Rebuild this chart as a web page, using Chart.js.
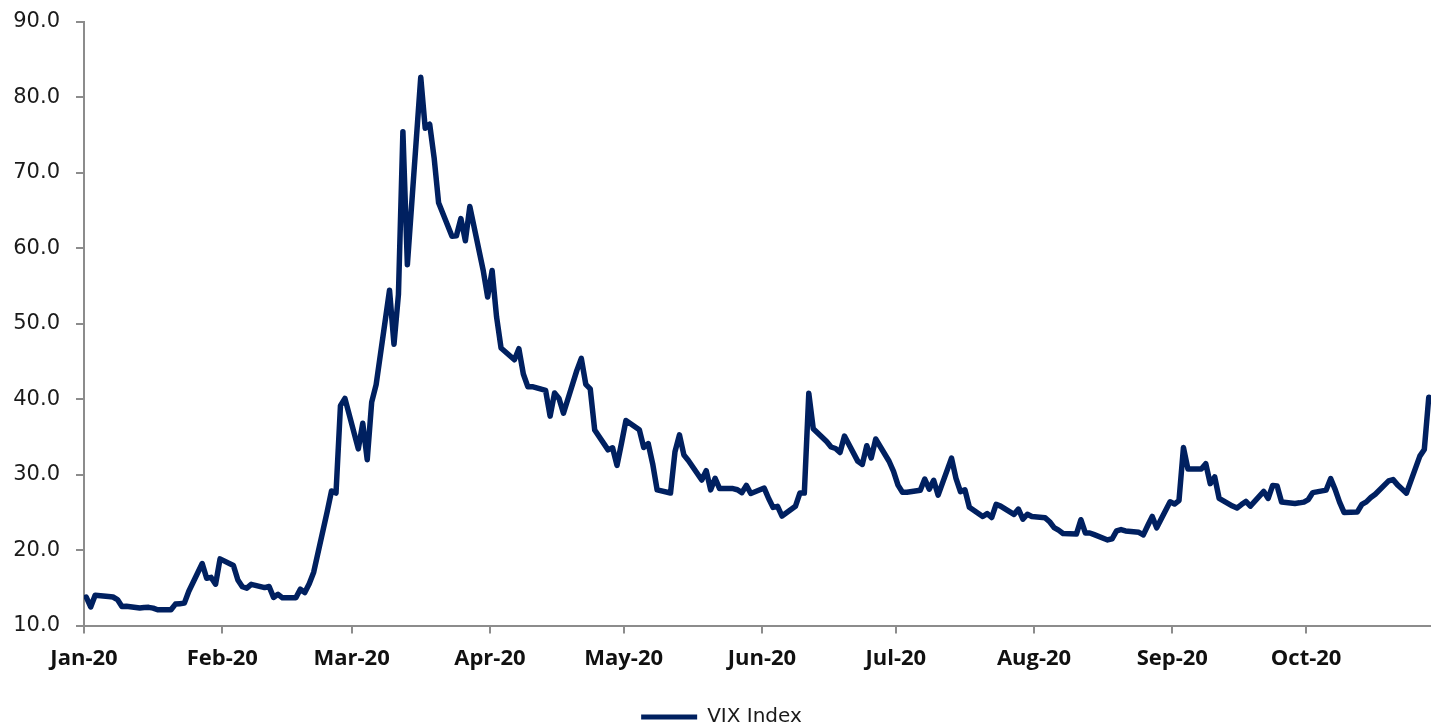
<!DOCTYPE html>
<html>
<head>
<meta charset="utf-8">
<title>VIX Index</title>
<script src="https://cdn.jsdelivr.net/npm/chart.js@4.4.1/dist/chart.umd.min.js"></script>
<style>
  html, body { margin: 0; padding: 0; background: #fff; }
  #wrap { width: 1431px; height: 724px; position: relative; }
</style>
</head>
<body>
<div id="wrap"><canvas id="vixChart"></canvas></div>
<script>
// daily closes (exchange holidays carry the previous close)
const dates = [
  '2020-01-01','2020-01-02','2020-01-03','2020-01-06','2020-01-07','2020-01-08','2020-01-09','2020-01-10',
  '2020-01-13','2020-01-14','2020-01-15','2020-01-16','2020-01-17','2020-01-20','2020-01-21','2020-01-22',
  '2020-01-23','2020-01-24','2020-01-27','2020-01-28','2020-01-29','2020-01-30','2020-01-31',
  '2020-02-03','2020-02-04','2020-02-05','2020-02-06','2020-02-07','2020-02-10','2020-02-11','2020-02-12',
  '2020-02-13','2020-02-14','2020-02-17','2020-02-18','2020-02-19','2020-02-20','2020-02-21','2020-02-24',
  '2020-02-25','2020-02-26','2020-02-27','2020-02-28',
  '2020-03-02','2020-03-03','2020-03-04','2020-03-05','2020-03-06','2020-03-09','2020-03-10','2020-03-11',
  '2020-03-12','2020-03-13','2020-03-16','2020-03-17','2020-03-18','2020-03-19','2020-03-20','2020-03-23',
  '2020-03-24','2020-03-25','2020-03-26','2020-03-27','2020-03-30','2020-03-31',
  '2020-04-01','2020-04-02','2020-04-03','2020-04-06','2020-04-07','2020-04-08','2020-04-09','2020-04-10',
  '2020-04-13','2020-04-14','2020-04-15','2020-04-16','2020-04-17','2020-04-20','2020-04-21','2020-04-22',
  '2020-04-23','2020-04-24','2020-04-27','2020-04-28','2020-04-29','2020-04-30',
  '2020-05-01','2020-05-04','2020-05-05','2020-05-06','2020-05-07','2020-05-08','2020-05-11','2020-05-12',
  '2020-05-13','2020-05-14','2020-05-15','2020-05-18','2020-05-19','2020-05-20','2020-05-21','2020-05-22',
  '2020-05-25','2020-05-26','2020-05-27','2020-05-28','2020-05-29',
  '2020-06-01','2020-06-02','2020-06-03','2020-06-04','2020-06-05','2020-06-08','2020-06-09','2020-06-10',
  '2020-06-11','2020-06-12','2020-06-15','2020-06-16','2020-06-17','2020-06-18','2020-06-19','2020-06-22',
  '2020-06-23','2020-06-24','2020-06-25','2020-06-26','2020-06-29','2020-06-30',
  '2020-07-01','2020-07-02','2020-07-03','2020-07-06','2020-07-07','2020-07-08','2020-07-09','2020-07-10',
  '2020-07-13','2020-07-14','2020-07-15','2020-07-16','2020-07-17','2020-07-20','2020-07-21','2020-07-22',
  '2020-07-23','2020-07-24','2020-07-27','2020-07-28','2020-07-29','2020-07-30','2020-07-31',
  '2020-08-03','2020-08-04','2020-08-05','2020-08-06','2020-08-07','2020-08-10','2020-08-11','2020-08-12',
  '2020-08-13','2020-08-14','2020-08-17','2020-08-18','2020-08-19','2020-08-20','2020-08-21','2020-08-24',
  '2020-08-25','2020-08-26','2020-08-27','2020-08-28','2020-08-31',
  '2020-09-01','2020-09-02','2020-09-03','2020-09-04','2020-09-07','2020-09-08','2020-09-09','2020-09-10',
  '2020-09-11','2020-09-14','2020-09-15','2020-09-16','2020-09-17','2020-09-18','2020-09-21','2020-09-22',
  '2020-09-23','2020-09-24','2020-09-25','2020-09-28','2020-09-29','2020-09-30',
  '2020-10-01','2020-10-02','2020-10-05','2020-10-06','2020-10-07','2020-10-08','2020-10-09','2020-10-12',
  '2020-10-13','2020-10-14','2020-10-15','2020-10-16','2020-10-19','2020-10-20','2020-10-21','2020-10-22',
  '2020-10-23','2020-10-26','2020-10-27','2020-10-28'
];

const vix = [
  13.78, 12.47, 14.02, 13.85, 13.79, 13.45, 12.54, 12.56,
  12.32, 12.39, 12.42, 12.32, 12.10, 12.10, 12.85, 12.91,
  12.98, 14.56, 18.23, 16.28, 16.39, 15.49, 18.84,
  17.97, 16.05, 15.15, 14.96, 15.47, 15.04, 15.18, 13.74,
  14.15, 13.68, 13.68, 14.83, 14.38, 15.56, 17.08, 25.03,
  27.85, 27.56, 39.16, 40.11,
  33.42, 36.82, 31.99, 39.62, 41.94, 54.46, 47.30, 53.90,
  75.47, 57.83, 82.69, 75.91, 76.45, 72.00, 66.04, 61.59,
  61.67, 63.95, 61.00, 65.54, 57.08, 53.54,
  57.06, 50.91, 46.80, 45.24, 46.70, 43.35, 41.67, 41.67,
  41.17, 37.76, 40.84, 40.11, 38.15, 43.83, 45.41, 41.98,
  41.38, 35.93, 33.29, 33.57, 31.23, 34.15,
  37.19, 35.97, 33.61, 34.12, 31.44, 27.98, 27.57, 33.04,
  35.28, 32.61, 31.89, 29.30, 30.53, 27.99, 29.53, 28.16,
  28.16, 28.01, 27.62, 28.59, 27.51,
  28.23, 26.84, 25.66, 25.81, 24.52, 25.81, 27.57, 27.57,
  40.79, 36.09, 34.40, 33.67, 33.47, 32.94, 35.12, 31.77,
  31.37, 33.84, 32.22, 34.73, 31.78, 30.43,
  28.62, 27.68, 27.68, 27.94, 29.43, 28.08, 29.26, 27.29,
  32.19, 29.52, 27.76, 28.00, 25.68, 24.46, 24.84, 24.32,
  26.08, 25.84, 24.74, 25.44, 24.10, 24.76, 24.46,
  24.28, 23.76, 22.99, 22.65, 22.21, 22.13, 24.03, 22.28,
  22.28, 22.05, 21.35, 21.51, 22.54, 22.72, 22.54, 22.37,
  22.03, 23.27, 24.47, 22.96, 26.41,
  26.12, 26.57, 33.60, 30.75, 30.75, 31.46, 28.81, 29.71,
  26.87, 25.85, 25.59, 26.04, 26.46, 25.83, 27.78, 26.86,
  28.58, 28.51, 26.38, 26.19, 26.27, 26.37,
  26.70, 27.63, 27.96, 29.48, 28.06, 26.36, 25.00, 25.07,
  26.07, 26.40, 26.97, 27.41, 29.18, 29.35, 28.65, 28.11,
  27.55, 32.46, 33.35, 40.28
];

const monthStarts = ['2020-01-01','2020-02-01','2020-03-01','2020-04-01','2020-05-01',
                     '2020-06-01','2020-07-01','2020-08-01','2020-09-01','2020-10-01'];
const monthLabels = ['Jan-20','Feb-20','Mar-20','Apr-20','May-20','Jun-20','Jul-20','Aug-20','Sep-20','Oct-20'];
const yTicks = [10, 20, 30, 40, 50, 60, 70, 80, 90];
const axisEnd = '2020-10-29';

// days since 1 Jan; each date sits in the middle of its day slot, like Excel's date axis
const dayOf = s => (Date.parse(s) - Date.parse('2020-01-01')) / 86400000;
const points = dates.map((d, i) => ({ x: dayOf(d) + 0.5, y: vix[i] }));

const navy = '#002060';
const axisGrey = '#8c8c8c';

const ctx = document.getElementById('vixChart').getContext('2d');
new Chart(ctx, {
  type: 'line',
  data: {
    datasets: [{
      label: 'VIX Index',
      data: points,
      borderColor: navy,
      backgroundColor: navy,
      borderWidth: 5.5,
      borderJoinStyle: 'round',
      borderCapStyle: 'round',
      pointRadius: 0,
      tension: 0
    }]
  },
  options: {
    responsive: true,
    maintainAspectRatio: false,
    animation: false,
    devicePixelRatio: 1,
    layout: { padding: { left: 12, right: 0, top: 22, bottom: -13 } },
    scales: {
      x: {
        type: 'linear',
        min: 0,
        max: dayOf(axisEnd),
        afterBuildTicks: function (scale) {
          scale.ticks = monthStarts.map(d => ({ value: dayOf(d) }));
        },
        afterFit: function (scale) { scale.height += 13; },
        ticks: {
          autoSkip: false,
          maxRotation: 0,
          padding: 12,
          color: '#111',
          font: { family: 'Open Sans', size: 22, weight: 'bold' },
          callback: function (value, index) {
            return monthLabels[index];
          }
        },
        grid: { drawOnChartArea: false, drawTicks: true, tickLength: 8, color: axisGrey, lineWidth: 2 },
        border: { color: axisGrey, width: 2 }
      },
      y: {
        min: yTicks[0],
        max: yTicks[yTicks.length - 1],
        afterFit: function (scale) {
          scale.width = 72;
          scale.paddingTop = 0;
          scale.paddingBottom = 0;
        },
        ticks: {
          stepSize: 10,
          padding: 16,
          color: '#1a1a1a',
          font: { family: 'DejaVu Sans', size: 21 },
          callback: function (value) {
            return value.toFixed(1);
          }
        },
        grid: { drawOnChartArea: false, drawTicks: true, tickLength: 8, color: axisGrey, lineWidth: 2 },
        border: { color: axisGrey, width: 2 }
      }
    },
    plugins: {
      tooltip: { enabled: false },
      legend: {
        position: 'bottom',
        labels: {
          boxWidth: 56,
          boxHeight: 5,
          color: '#1a1a1a',
          font: { family: 'DejaVu Sans', size: 20 },
          generateLabels: function (chart) {
            return Chart.defaults.plugins.legend.labels.generateLabels(chart)
              .map(item => Object.assign(item, { lineWidth: 0 }));
          }
        }
      }
    }
  }
});
</script>
</body>
</html>
